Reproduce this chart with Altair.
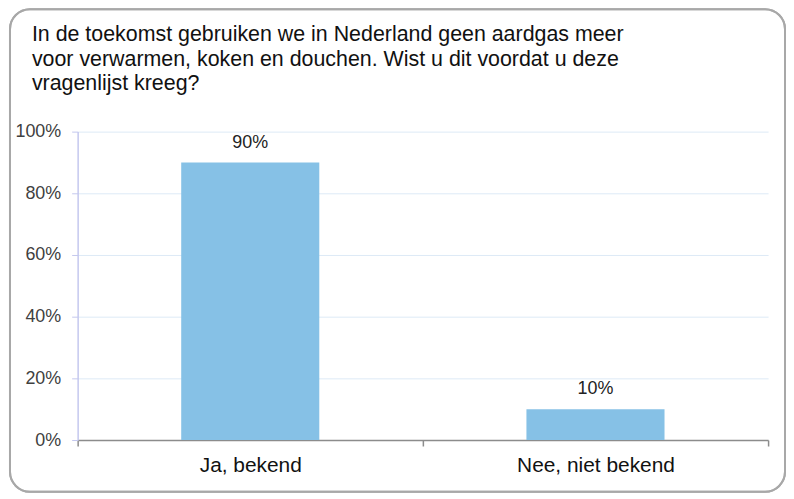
import altair as alt
import pandas as pd

categories = ["Ja, bekend", "Nee, niet bekend"]
shares = [0.90, 0.10]
labels = ["90%", "10%"]
title_lines = [
    "In de toekomst gebruiken we in Nederland geen aardgas meer",
    "voor verwarmen, koken en douchen. Wist u dit voordat u deze",
    "vragenlijst kreeg?",
]

df = pd.DataFrame({"cat": categories, "share": shares, "label": labels})

FONT = "Liberation Sans"
W, H = 694, 310

x = alt.X(
    "cat:N",
    sort=categories,
    scale=alt.Scale(paddingInner=0, paddingOuter=0),
    axis=alt.Axis(
        title=None, labelAngle=0, labelFontSize=21, labelColor="#111111",
        labelFont=FONT, domainColor="#8C8C8C", domainWidth=1.6,
        tickColor="#8C8C8C", tickWidth=1.5, tickSize=6, tickBand="extent",
        labelPadding=9, grid=False,
    ),
)
y = alt.Y(
    "share:Q",
    scale=alt.Scale(domain=[0, 1]),
    axis=alt.Axis(
        title=None, format=".0%", values=[0, 0.2, 0.4, 0.6, 0.8, 1.0],
        labelFontSize=18, labelColor="#404040", labelFont=FONT,
        domainColor="#C4C8EE", domainWidth=1.5, tickColor="#C4C8EE",
        tickSize=6, labelPadding=11, gridColor="#DDEAF6", gridWidth=1,
    ),
)

bars = alt.Chart(df).mark_bar(
    color="#86C1E6", width=alt.RelativeBandSize(0.4)
).encode(x=x, y=y)
text = alt.Chart(df).mark_text(
    baseline="alphabetic", dy=-15, fontSize=18, font=FONT, color="#222222"
).encode(x=alt.X("cat:N", sort=categories), y="share:Q", text="label:N")

border = alt.Chart(df).mark_rect(
    fill=None, stroke="#A8A8A8", strokeWidth=2, cornerRadius=20
).encode(
    x=alt.value(-68), x2=alt.value(711), y=alt.value(-123), y2=alt.value(362)
)

chart = alt.layer(bars, text, border).properties(
    width=W, height=H,
    title=alt.TitleParams(
        text=title_lines, anchor="start", frame="group", dx=-46, offset=0,
        dy=104, baseline="alphabetic",
        fontSize=21.5, font=FONT, fontWeight="normal", color="#111111",
        lineHeight=24.8,
    ),
    autosize=alt.AutoSizeParams(type="none"),
    padding={"left": 70, "top": 123, "right": 18, "bottom": 53},
).configure_view(stroke=None)

chart.save("out.html", embed_options={"renderer": "svg", "actions": False})
